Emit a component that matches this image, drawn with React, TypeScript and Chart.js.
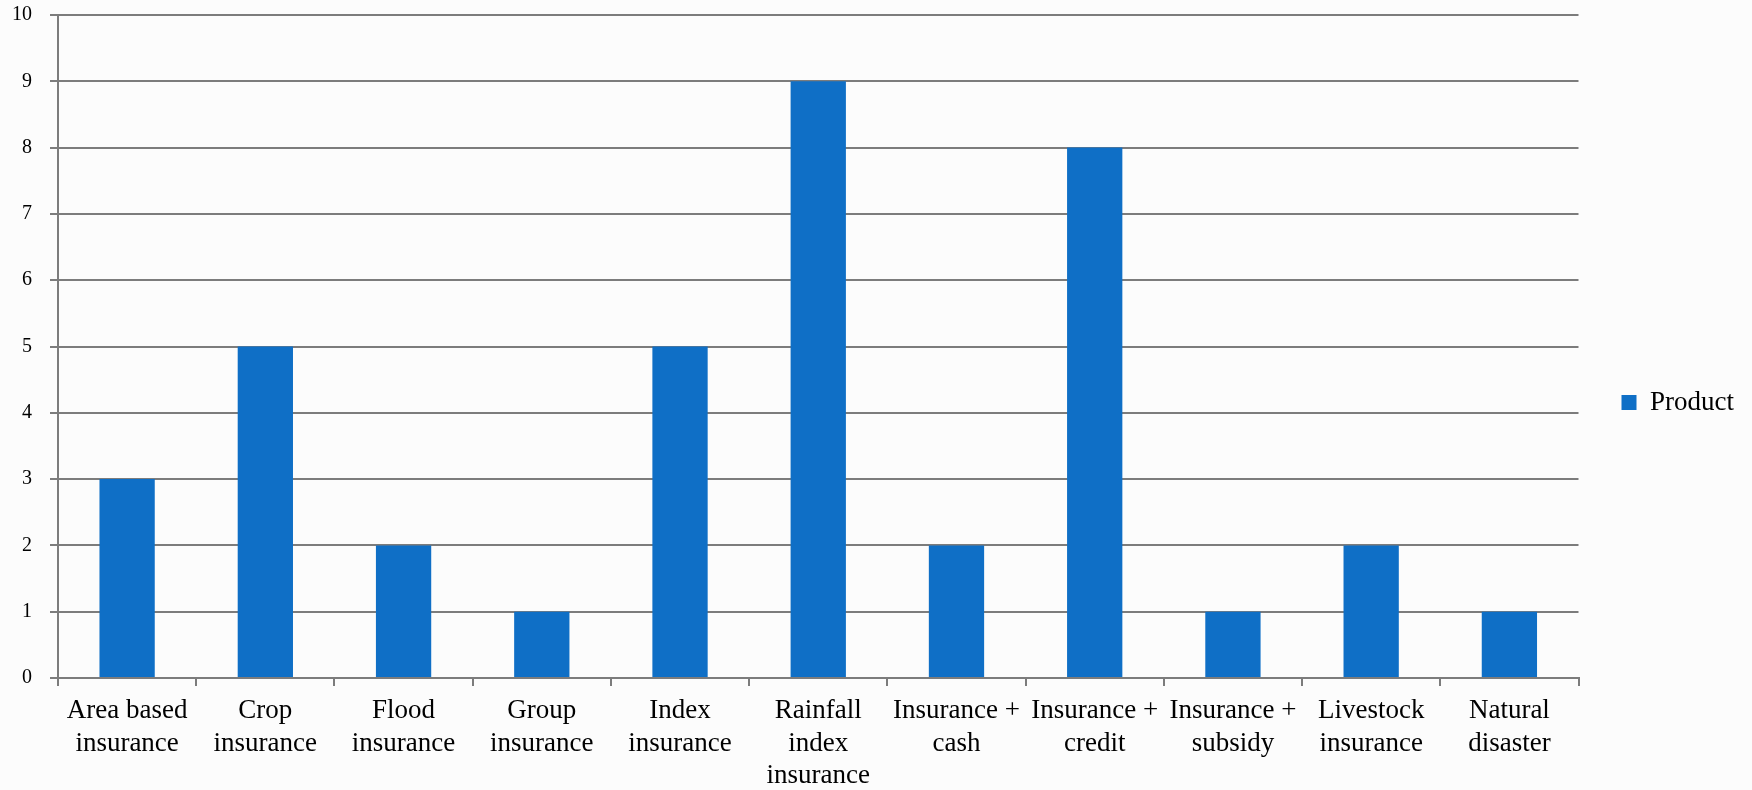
import React, { useEffect, useRef } from "react";
import { Chart, registerables } from "chart.js";

Chart.register(...registerables);

const categories: string[][] = [
  ["Area based", "insurance"],
  ["Crop", "insurance"],
  ["Flood", "insurance"],
  ["Group", "insurance"],
  ["Index", "insurance"],
  ["Rainfall", "index", "insurance"],
  ["Insurance +", "cash"],
  ["Insurance +", "credit"],
  ["Insurance +", "subsidy"],
  ["Livestock", "insurance"],
  ["Natural", "disaster"],
];
const seriesName = "Product";
const productValues = [3, 5, 2, 1, 5, 9, 2, 8, 1, 2, 1];
const yMin = 0;
const yMax = 10;
const yStep = 1;

const FONT = "'Liberation Serif', 'DejaVu Serif', serif";
const BAR_COLOR = "#0F6FC6";
const GRID_COLOR = "#7c7c7c";

const bgPlugin = {
  id: "bgFill",
  beforeDraw(chart: any) {
    const { ctx, width, height } = chart;
    ctx.save();
    ctx.fillStyle = "#fcfcfc";
    ctx.fillRect(0, 0, width, height);
    ctx.restore();
  },
};

export default function App() {
  const canvasRef = useRef<HTMLCanvasElement | null>(null);

  useEffect(() => {
    if (!canvasRef.current) return;
    const chart = new Chart(canvasRef.current, {
      type: "bar",
      data: {
        labels: categories,
        datasets: [
          {
            label: seriesName,
            data: productValues,
            backgroundColor: BAR_COLOR,
            borderWidth: 0,
            barPercentage: 0.4,
            categoryPercentage: 1,
          },
        ],
      },
      options: {
        animation: false,
        responsive: true,
        maintainAspectRatio: false,
        layout: { padding: { top: 15, right: 8, bottom: 0, left: 0 } },
        plugins: {
          legend: {
            display: true,
            position: "right",
            labels: {
              boxWidth: 15,
              boxHeight: 15,
              padding: 43,
              color: "#000",
              font: { family: FONT, size: 27 },
            },
          },
          tooltip: { enabled: false },
        },
        scales: {
          x: {
            grid: {
              display: true,
              drawOnChartArea: false,
              drawTicks: true,
              tickLength: 8,
              color: GRID_COLOR,
              lineWidth: 2,
              offset: true,
            },
            border: { display: true, color: GRID_COLOR, width: 2 },
            ticks: {
              autoSkip: false,
              maxRotation: 0,
              minRotation: 0,
              padding: 8,
              color: "#000",
              font: { family: FONT, size: 27, lineHeight: 1.22 },
            },
            afterFit(scale: any) {
              scale.height = 112;
            },
          },
          y: {
            min: yMin,
            max: yMax,
            grid: {
              color: GRID_COLOR,
              lineWidth: 2,
              tickLength: 8,
            },
            border: { display: true, color: GRID_COLOR, width: 2 },
            ticks: {
              stepSize: yStep,
              padding: 18,
              color: "#000",
              font: { family: FONT, size: 20 },
            },
            afterFit(scale: any) {
              scale.width = 58;
              scale.paddingTop = 0;
              scale.paddingBottom = 0;
            },
          },
        },
      },
      plugins: [bgPlugin],
    });
    return () => chart.destroy();
  }, []);

  return (
    <div
      style={{
        position: "fixed",
        left: 0,
        top: 0,
        width: 1752,
        height: 790,
        background: "#fcfcfc",
      }}
    >
      <canvas ref={canvasRef} />
    </div>
  );
}
